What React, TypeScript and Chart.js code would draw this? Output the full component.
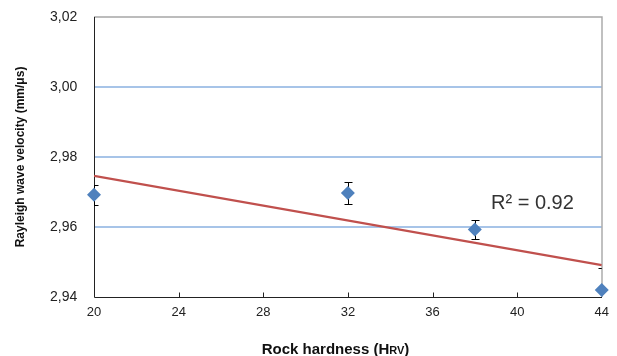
import React, { useEffect, useRef } from "react";
import { Chart, registerables } from "chart.js";

Chart.register(...registerables);

const hardness = [20, 32, 38, 44];
const velocity = [2.9692, 2.9697, 2.9593, 2.942];
const velocityError = [0.0029, 0.0032, 0.0028, 0.0063];
const trendX = [20, 44];
const trendY = [2.9746, 2.9491];
const xTicks = [20, 24, 28, 32, 36, 40, 44];
const yTicks = [2.94, 2.96, 2.98, 3.0, 3.02];
const r2Label = "R² = 0.92";
const yTitle = "Rayleigh wave velocity (mm/μs)";
const xTitleMain = "Rock hardness (H";
const xTitleSub = "RV";
const xTitleEnd = ")";

const FONT = "'Liberation Sans', Arial, sans-serif";

const framePlugin = {
  id: "frame",
  beforeDatasetsDraw(chart: any) {
    const { ctx, chartArea: a, scales } = chart;
    const xs = scales.x, ys = scales.y;
    ctx.save();
    // gridlines
    ctx.lineWidth = 1.4;
    ctx.strokeStyle = "#8AB0E0";
    yTicks.forEach((v, i) => {
      if (i === 0 || i === yTicks.length - 1) return;
      const y = Math.round(ys.getPixelForValue(v));
      ctx.beginPath();
      ctx.moveTo(a.left, y);
      ctx.lineTo(a.right, y);
      ctx.stroke();
    });
    // top & right border
    ctx.strokeStyle = "#A6A6A6";
    ctx.lineWidth = 1.4;
    const top = Math.round(a.top);
    const right = Math.round(a.right);
    ctx.beginPath();
    ctx.moveTo(a.left, top);
    ctx.lineTo(right, top);
    ctx.lineTo(right, a.bottom);
    ctx.stroke();
    // left & bottom axis
    ctx.strokeStyle = "#222";
    ctx.lineWidth = 1;
    const left = Math.round(a.left) + 0.5;
    const bottom = Math.round(a.bottom) + 0.5;
    ctx.beginPath();
    ctx.moveTo(left, a.top);
    ctx.lineTo(left, bottom);
    ctx.lineTo(right, bottom);
    ctx.stroke();
    // inward x ticks
    xTicks.forEach((v, i) => {
      if (i === 0 || i === xTicks.length - 1) return;
      const x = Math.round(xs.getPixelForValue(v)) + 0.5;
      ctx.beginPath();
      ctx.moveTo(x, bottom);
      ctx.lineTo(x, bottom - 5);
      ctx.stroke();
    });
    // error bars (clipped to plot area)
    ctx.beginPath();
    ctx.rect(a.left, a.top, a.right - a.left, a.bottom - a.top);
    ctx.clip();
    ctx.strokeStyle = "#000";
    ctx.lineWidth = 1;
    hardness.forEach((h, i) => {
      const x = Math.round(xs.getPixelForValue(h)) + 0.5;
      const y1 = Math.round(ys.getPixelForValue(velocity[i] + velocityError[i])) + 0.5;
      const y2 = Math.round(ys.getPixelForValue(velocity[i] - velocityError[i])) + 0.5;
      ctx.beginPath();
      ctx.moveTo(x, y1);
      ctx.lineTo(x, y2);
      ctx.moveTo(x - 4, y1);
      ctx.lineTo(x + 4, y1);
      ctx.moveTo(x - 4, y2);
      ctx.lineTo(x + 4, y2);
      ctx.stroke();
    });
    ctx.restore();
  },
  afterDraw(chart: any) {
    const { ctx, chartArea: a } = chart;
    ctx.save();
    ctx.fillStyle = "#333";
    ctx.font = `20px ${FONT}`;
    ctx.textAlign = "left";
    ctx.textBaseline = "alphabetic";
    ctx.fillText(r2Label, 491, 209);

    // y title
    ctx.fillStyle = "#111";
    ctx.font = `bold 12px ${FONT}`;
    ctx.translate(21, (a.top + a.bottom) / 2);
    ctx.rotate(-Math.PI / 2);
    ctx.textAlign = "center";
    ctx.textBaseline = "middle";
    ctx.fillText(yTitle, 0, 0);
    ctx.setTransform(1, 0, 0, 1, 0, 0);

    // x title
    const mainFont = `bold 15px ${FONT}`;
    const subFont = `bold 11px ${FONT}`;
    ctx.font = mainFont;
    const w1 = ctx.measureText(xTitleMain).width;
    const w3 = ctx.measureText(xTitleEnd).width;
    ctx.font = subFont;
    const w2 = ctx.measureText(xTitleSub).width;
    const total = w1 + w2 + w3;
    const cx = 335.5;
    let x = cx - total / 2;
    const base = 354;
    ctx.textAlign = "left";
    ctx.textBaseline = "alphabetic";
    ctx.font = mainFont;
    ctx.fillText(xTitleMain, x, base);
    x += w1;
    ctx.font = subFont;
    ctx.fillText(xTitleSub, x, base);
    x += w2;
    ctx.font = mainFont;
    ctx.fillText(xTitleEnd, x, base);
    ctx.restore();
  },
};

export default function App() {
  const ref = useRef<HTMLCanvasElement>(null);
  useEffect(() => {
    if (!ref.current) return;
    const chart = new Chart(ref.current, {
      type: "scatter",
      data: {
        datasets: [
          {
            label: "trend",
            data: trendX.map((x, i) => ({ x, y: trendY[i] })),
            showLine: true,
            borderColor: "#C0504D",
            borderWidth: 2.2,
            pointRadius: 0,
            order: 1,
          },
          {
            label: "velocity",
            data: hardness.map((x, i) => ({ x, y: velocity[i] })),
            pointStyle: "rectRot",
            pointRadius: 7,
            backgroundColor: "#4F81BD",
            borderColor: "#4F81BD",
            borderWidth: 0,
            clip: false as any,
            order: 0,
          },
        ],
      },
      options: {
        animation: false,
        responsive: true,
        maintainAspectRatio: false,
        layout: { padding: { left: 50, top: 17, right: 15, bottom: 0 } },
        plugins: { legend: { display: false }, tooltip: { enabled: false } },
        scales: {
          x: {
            type: "linear",
            min: 20,
            max: 44,
            grid: { display: false, drawTicks: false },
            border: { display: false },
            afterBuildTicks: (s: any) => {
              s.ticks = xTicks.map((v) => ({ value: v }));
            },
            afterFit: (s: any) => {
              s.height = 59;
            },
            ticks: {
              padding: 8,
              color: "#222",
              font: { family: FONT, size: 13 },
              maxRotation: 0,
              autoSkip: false,
              callback: (v: any) => String(v),
            },
          },
          y: {
            type: "linear",
            min: 2.94,
            max: 3.02,
            grid: { display: false, drawTicks: false },
            border: { display: false },
            afterBuildTicks: (s: any) => {
              s.ticks = yTicks.map((v) => ({ value: v }));
            },
            afterFit: (s: any) => {
              s.width = 44;
            },
            ticks: {
              padding: 0,
              crossAlign: "far",
              color: "#222",
              font: { family: FONT, size: 14 },
              autoSkip: false,
              callback: (v: any) => Number(v).toFixed(2).replace(".", ","),
            },
          },
        },
      },
      plugins: [framePlugin],
    });
    return () => chart.destroy();
  }, []);
  return (
    <div style={{ position: "fixed", left: 0, top: 0, width: 617, height: 356, background: "#fff" }}>
      <canvas ref={ref} />
    </div>
  );
}
